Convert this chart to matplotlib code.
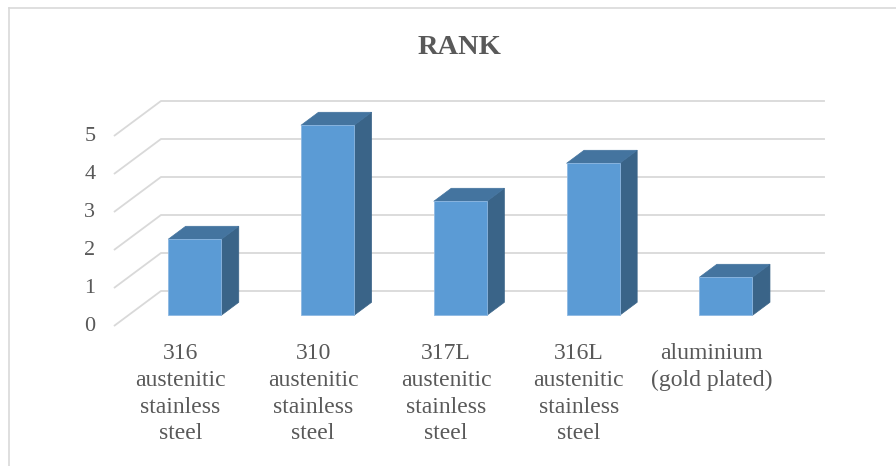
import numpy as np
import matplotlib.pyplot as plt
from matplotlib.patches import Polygon
from matplotlib.lines import Line2D

##Dados
categorias = ['316\naustenitic\nstainless\nsteel',
              '310\naustenitic\nstainless\nsteel',
              '317L\naustenitic\nstainless\nsteel',
              '316L\naustenitic\nstainless\nsteel',
              'aluminium\n(gold plated)']
rank = [2, 5, 3, 4, 1]
y_ticks = [0, 1, 2, 3, 4, 5]
titulo = 'RANK'

##Cores
cor_frente = '#5B9BD5'
cor_topo = '#44749F'
cor_lado = '#3A6488'
cor_grade = '#D9D9D9'
cor_texto = '#595959'

##Efeito 3D: deslocamento por unidade de profundidade
DX = 0.354
DY = 0.921
z_frente = 0.306
z_fundo = 0.678
meia_larg = 0.2

def proj(x, y, z):
    return (x + z * DX, y + z * DY)

fig = plt.figure(figsize=(8.96, 4.66), dpi=100)
ax = fig.add_axes([0, 0, 1, 1])
ax.set_xlim(-1.358, 5.389)
ax.set_ylim(-3.684, 8.579)
ax.axis('off')

##Grade (parede do fundo + linhas inclinadas)
x_esq = -0.5
x_dir = len(categorias) - 0.5
for v in y_ticks:
    p0 = proj(x_esq, v, 0)
    p1 = proj(x_esq, v, 1)
    p2 = proj(x_dir, v, 1)
    ax.plot([p0[0], p1[0], p2[0]], [p0[1], p1[1], p2[1]],
            color=cor_grade, lw=1.3, solid_capstyle='butt', zorder=1)
    ax.text(x_esq - 0.14, v, str(v), ha='right', va='center',
            fontsize=16, color=cor_texto, family='Liberation Serif')

##Barras
for i, v in enumerate(rank):
    xa = i - meia_larg
    xb = i + meia_larg
    lado = [proj(xb, 0, z_frente), proj(xb, v, z_frente),
            proj(xb, v, z_fundo), proj(xb, 0, z_fundo)]
    topo = [proj(xa, v, z_frente), proj(xb, v, z_frente),
            proj(xb, v, z_fundo), proj(xa, v, z_fundo)]
    frente = [proj(xa, 0, z_frente), proj(xb, 0, z_frente),
              proj(xb, v, z_frente), proj(xa, v, z_frente)]
    ax.add_patch(Polygon(lado, closed=True, facecolor=cor_lado, edgecolor=cor_lado, lw=0.5, zorder=3))
    ax.add_patch(Polygon(topo, closed=True, facecolor=cor_topo, edgecolor=cor_topo, lw=0.5, zorder=3))
    ax.add_patch(Polygon(frente, closed=True, facecolor=cor_frente, edgecolor='#8DB8E2', lw=0.6, zorder=4))

##Rótulos das categorias
for i, nome in enumerate(categorias):
    ax.text(i, -0.45, nome, ha='center', va='top', fontsize=17,
            color=cor_texto, family='Liberation Serif', linespacing=1.36)

##Título
fig.text(460 / 896, 1 - 48 / 466, titulo, ha='center', va='center', fontsize=20.5,
         fontweight='bold', color=cor_texto, family='Liberation Serif')

##Borda do gráfico
fig.add_artist(Line2D([9 / 896, 9 / 896], [0, 1 - 8 / 466], color=cor_grade, lw=1.2))
fig.add_artist(Line2D([9 / 896, 1], [1 - 8 / 466, 1 - 8 / 466], color=cor_grade, lw=1.2))

plt.savefig('out.png', dpi=100)
